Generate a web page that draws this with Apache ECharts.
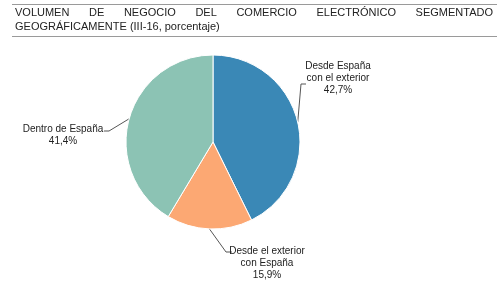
<!DOCTYPE html>
<html><head><meta charset="utf-8">
<script src="https://cdn.jsdelivr.net/npm/echarts@6/dist/echarts.min.js"></script>
<style>html,body{margin:0;padding:0;background:#fff}#c{width:500px;height:288px}</style>
</head><body><div id="c"></div>
<script>
const titleLine1 = ['VOLUMEN', 'DE', 'NEGOCIO', 'DEL', 'COMERCIO', 'ELECTRÓNICO', 'SEGMENTADO'];
const titleLine2 = 'GEOGRÁFICAMENTE (III-16, porcentaje)';
const categories = ['Desde España\ncon el exterior', 'Desde el exterior\ncon España', 'Dentro de España'];
const values = [42.7, 15.9, 41.4];
const colors = ['#3a88b6', '#fca873', '#8cc3b4'];

// label placement (layout only)
const labelPos = [
  { x: 338, y: 78, line: [[301, 84], [306, 84]] },
  { x: 267, y: 263, line: [[226, 252], [232, 252]] },
  { x: 63, y: 135, line: [[109, 131], [104, 131]] }
];

const font = '11px "Liberation Sans", Arial, sans-serif';
const ctx = document.createElement('canvas').getContext('2d');
ctx.font = font;
const tLeft = 15, tRight = 493;
const widths = titleLine1.map(w => ctx.measureText(w).width);
const gap = (tRight - tLeft - widths.reduce((a, b) => a + b, 0)) / (titleLine1.length - 1);
const graphics = [];
let cx = tLeft;
titleLine1.forEach((w, i) => {
  graphics.push({ type: 'text', x: cx, y: 13, style: { text: w, font: font, fill: '#222', verticalAlign: 'middle' } });
  cx += widths[i] + gap;
});
graphics.push({ type: 'text', x: tLeft, y: 27, style: { text: titleLine2, font: font, fill: '#222', verticalAlign: 'middle' } });
graphics.push({ type: 'line', shape: { x1: 12, y1: 4.5, x2: 497, y2: 4.5 }, style: { stroke: '#9a9a9a', lineWidth: 1 } });
graphics.push({ type: 'line', shape: { x1: 12, y1: 36.5, x2: 497, y2: 36.5 }, style: { stroke: '#9a9a9a', lineWidth: 1 } });

const chart = echarts.init(document.getElementById('c'), null, { renderer: 'canvas' });
chart.setOption({
  animation: false,
  graphic: graphics,
  series: [{
    type: 'pie',
    center: [213, 142],
    radius: 87,
    startAngle: 90,
    clockwise: true,
    silent: true,
    data: categories.map((n, i) => ({ name: n, value: values[i], itemStyle: { color: colors[i] } })),
    itemStyle: { borderColor: '#fff', borderWidth: 1 },
    label: {
      show: true,
      formatter: p => p.name + '\n' + p.value.toFixed(1).replace('.', ',') + '%',
      fontFamily: '"Liberation Sans", Arial, sans-serif',
      fontSize: 10,
      lineHeight: 12,
      color: '#222',
      align: 'center',
      overflow: 'none',
      width: 120
    },
    labelLine: { show: true, lineStyle: { color: '#555', width: 1 } },
    labelLayout: function (params) {
      const p = labelPos[params.dataIndex];
      const start = params.labelLinePoints ? params.labelLinePoints[0] : p.line[0];
      return { x: p.x, y: p.y, align: 'center', verticalAlign: 'middle', labelLinePoints: [start, p.line[0], p.line[1]] };
    }
  }]
});
</script></body></html>
